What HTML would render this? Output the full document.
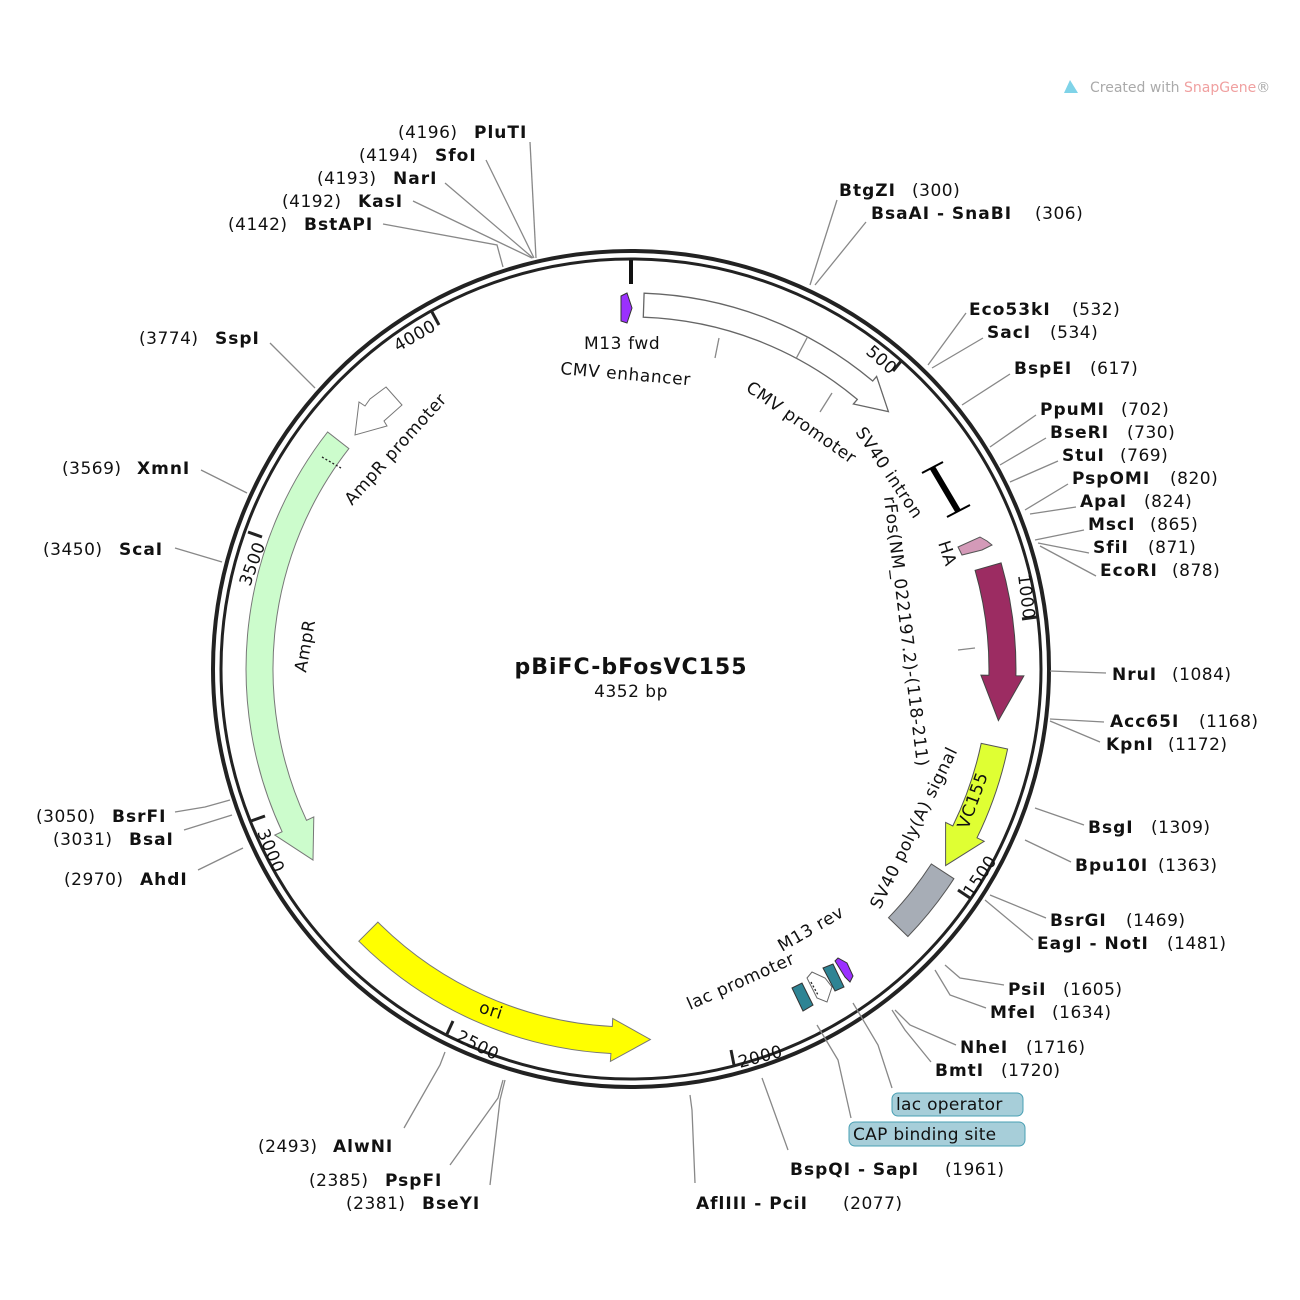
<!DOCTYPE html>
<html><head><meta charset="utf-8"><style>
body{margin:0;background:#fff}
svg{display:block}
text{font-family:"DejaVu Sans","Liberation Sans",sans-serif;font-size:17px;letter-spacing:0.5px;fill:#111}
.b{font-weight:bold;font-size:17px;letter-spacing:1px}
.f{font-size:17px;letter-spacing:0.6px}
line,polyline{stroke:#888;stroke-width:1.3;fill:none}
</style></head><body>
<svg width="1300" height="1300" viewBox="0 0 1300 1300">
<path d="M1064,93 L1070,80 L1078,93 Z" fill="#7fd3e8"/>
<text x="1090" y="92" style="font-size:14px;letter-spacing:0;fill:#aaa">Created with <tspan style="fill:#f0a0a0">SnapGene</tspan>®</text>

<circle cx="631" cy="669" r="418" fill="none" stroke="#222" stroke-width="4"/>
<circle cx="631" cy="669" r="410" fill="none" stroke="#222" stroke-width="3"/>
<line x1="631" y1="260" x2="631" y2="284" style="stroke:#111;stroke-width:4"/>

<g>
<line x1="902" y1="360" x2="893" y2="371" style="stroke:#222;stroke-width:3"/>
<line x1="1037" y1="617" x2="1022" y2="619" style="stroke:#222;stroke-width:3"/>
<line x1="970" y1="898" x2="958" y2="890" style="stroke:#222;stroke-width:3"/>
<line x1="734" y1="1065" x2="731" y2="1050" style="stroke:#222;stroke-width:3"/>
<line x1="447" y1="1034" x2="453" y2="1021" style="stroke:#222;stroke-width:3"/>
<line x1="251" y1="821" x2="265" y2="816" style="stroke:#222;stroke-width:3"/>
<line x1="248" y1="532" x2="262" y2="537" style="stroke:#222;stroke-width:3"/>
<line x1="432" y1="312" x2="439" y2="325" style="stroke:#222;stroke-width:3"/>
</g>
<text transform="translate(865,353) rotate(41)">500</text>
<text transform="translate(1018,575) rotate(83)">1000</text>
<text transform="translate(972,898) rotate(-56)">1500</text>
<text transform="translate(740,1068) rotate(-15)">2000</text>
<text transform="translate(455,1040) rotate(27)">2500</text>
<text transform="translate(257,832) rotate(68)">3000</text>
<text transform="translate(250,587) rotate(-70)">3500</text>
<text transform="translate(398,352) rotate(-30)">4000</text>

<path d="M644.1,293.2 A376,376 0 0 1 872.7,381.0 L876.6,376.4 L888.4,411.6 L853.4,404.0 L857.3,399.4 A352,352 0 0 0 643.3,317.2 Z" fill="#fff" stroke="#666" stroke-width="1.3"/>
<line x1="807.5" y1="337" x2="796.3" y2="358.2"/>
<polygon points="621,296,627,293,632,308,627,323,621,321" fill="#9b30ff" stroke="#333"/>
<line x1="932" y1="467" x2="958" y2="511" style="stroke:#000;stroke-width:6"/>
<line x1="922" y1="473" x2="943" y2="462" style="stroke:#000;stroke-width:2"/>
<line x1="947" y1="517" x2="970" y2="505" style="stroke:#000;stroke-width:2"/>
<polygon points="958,547,980,537,987,541,992,545,982,550,962,555" fill="#d49ab8" stroke="#555"/>
<path d="M1001.1,562.9 A385,385 0 0 1 1015.9,675.7 L1023.9,675.9 L998.4,720.6 L980.9,675.1 L988.9,675.3 A358,358 0 0 0 975.1,570.3 Z" fill="#9c2c62" stroke="#444"/>
<path d="M1007.6,749 A385,385 0 0 1 977,837.8 L984.2,841.3 L945.6,865.6 L945.6,822.4 L952.8,826 A358,358 0 0 0 981.2,743.4 Z" fill="#dfff33" stroke="#555"/>
<path d="M953.9,878.7 A385,385 0 0 1 907.9,936.5 L888.5,917.7 A358,358 0 0 0 931.3,864 Z" fill="#a7adb6" stroke="#555"/>
<polygon points="792,988,802,983,813,1005,803,1011" fill="#2e8494" stroke="#333"/>
<polygon points="807,978,812,972,825,978,832,987,827,1002,817,998" fill="#fff" stroke="#666"/>
<polyline points="811,982 818,995" style="stroke:#222;stroke-dasharray:2,2"/>
<polygon points="823,968,833,964,844,987,835,991" fill="#2e8494" stroke="#333"/>
<polygon points="835,961,838,958,847,963,853,976,850,982,845,977" fill="#9b30ff" stroke="#333"/>
<path d="M358.8,941.2 A385,385 0 0 0 610.9,1053.5 L610.4,1061.4 L650.4,1039.5 L612.7,1018.5 L612.3,1026.5 A358,358 0 0 1 377.9,922.1 Z" fill="#ffff00" stroke="#777"/>
<path d="M327.6,432 A385,385 0 0 0 282.1,831.7 L274.8,835.1 L313,860.1 L313.8,816.9 L306.5,820.3 A358,358 0 0 1 348.9,448.6 Z" fill="#ccfccc" stroke="#777"/>
<line x1="322" y1="457" x2="341" y2="468" style="stroke:#222;stroke-dasharray:2,2"/>
<polygon points="386,387,402,405,384,421,387,426,355,435,359,402,365,406,370,399" fill="#fff" stroke="#777"/>

<text class="f" x="584" y="349">M13 fwd</text>
<text class="f" transform="translate(560,374) rotate(5)">CMV enhancer</text>
<line x1="715" y1="358" x2="719" y2="338"/>
<text class="f" transform="translate(745,390) rotate(35)">CMV promoter</text>
<line x1="820" y1="412" x2="832" y2="393"/>
<text class="f" transform="translate(855,432) rotate(56)">SV40 intron</text>
<text class="f" transform="translate(938,543) rotate(72)">HA</text>
<text class="f" transform="translate(884,497) rotate(83)">rFos(NM_022197.2)-(118-211)</text>
<line x1="958" y1="650" x2="975" y2="648"/>
<text class="f" transform="translate(880,910) rotate(-64)">SV40 poly(A) signal</text>
<text class="f" transform="translate(968,830) rotate(-70)">VC155</text>
<text class="f" transform="translate(782,952) rotate(-30)">M13 rev</text>
<text class="f" transform="translate(690,1010) rotate(-24)">lac promoter</text>
<text class="f" transform="translate(478,1012) rotate(18)">ori</text>
<text class="f" transform="translate(306,673) rotate(-80)">AmpR</text>
<text class="f" transform="translate(352,506) rotate(-48)">AmpR promoter</text>

<text x="631" y="674" text-anchor="middle" style="font-weight:bold;font-size:22px;letter-spacing:1px">pBiFC-bFosVC155</text>
<text x="631" y="697" text-anchor="middle">4352 bp</text>

<line x1="530" y1="142" x2="536" y2="258"/>
<line x1="486" y1="160" x2="534" y2="258"/>
<line x1="445" y1="183" x2="533" y2="258"/>
<line x1="413" y1="201" x2="532" y2="258"/>
<polyline points="383,224 497,245 503,267"/>
<text x="398" y="138">(4196)</text><text class="b" x="474" y="138">PluTI</text>
<text x="359" y="161">(4194)</text><text class="b" x="435" y="161">SfoI</text>
<text x="317" y="184">(4193)</text><text class="b" x="393" y="184">NarI</text>
<text x="282" y="207">(4192)</text><text class="b" x="358" y="207">KasI</text>
<text x="228" y="230">(4142)</text><text class="b" x="304" y="230">BstAPI</text>

<polyline points="837,200 810,285"/><polyline points="866,222 815,285"/>
<text class="b" x="839" y="196">BtgZI</text><text x="912" y="196">(300)</text>
<text class="b" x="871" y="219">BsaAI - SnaBI</text><text x="1035" y="219">(306)</text>
<line x1="966" y1="313" x2="928" y2="365"/><line x1="983" y1="338" x2="932" y2="368"/>
<text class="b" x="969" y="315">Eco53kI</text><text x="1072" y="315">(532)</text>
<text class="b" x="987" y="338">SacI</text><text x="1050" y="338">(534)</text>
<line x1="1010" y1="374" x2="962" y2="405"/>
<text class="b" x="1014" y="374">BspEI</text><text x="1090" y="374">(617)</text>
<line x1="1036" y1="415" x2="990" y2="447"/><line x1="1046" y1="438" x2="1000" y2="465"/>
<line x1="1058" y1="461" x2="1010" y2="482"/><line x1="1068" y1="484" x2="1025" y2="510"/>
<line x1="1076" y1="507" x2="1030" y2="514"/><line x1="1084" y1="530" x2="1035" y2="540"/>
<line x1="1089" y1="553" x2="1038" y2="543"/><line x1="1096" y1="576" x2="1040" y2="546"/>
<text class="b" x="1040" y="415">PpuMI</text><text x="1121" y="415">(702)</text>
<text class="b" x="1050" y="438">BseRI</text><text x="1127" y="438">(730)</text>
<text class="b" x="1062" y="461">StuI</text><text x="1120" y="461">(769)</text>
<text class="b" x="1072" y="484">PspOMI</text><text x="1170" y="484">(820)</text>
<text class="b" x="1080" y="507">ApaI</text><text x="1144" y="507">(824)</text>
<text class="b" x="1088" y="530">MscI</text><text x="1150" y="530">(865)</text>
<text class="b" x="1093" y="553">SfiI</text><text x="1148" y="553">(871)</text>
<text class="b" x="1100" y="576">EcoRI</text><text x="1172" y="576">(878)</text>
<line x1="1106" y1="673" x2="1050" y2="671"/>
<text class="b" x="1112" y="680">NruI</text><text x="1172" y="680">(1084)</text>
<line x1="1104" y1="722" x2="1050" y2="719"/><line x1="1100" y1="742" x2="1050" y2="721"/>
<text class="b" x="1110" y="727">Acc65I</text><text x="1199" y="727">(1168)</text>
<text class="b" x="1106" y="750">KpnI</text><text x="1168" y="750">(1172)</text>
<line x1="1084" y1="825" x2="1035" y2="808"/><line x1="1071" y1="862" x2="1025" y2="840"/>
<text class="b" x="1088" y="833">BsgI</text><text x="1151" y="833">(1309)</text>
<text class="b" x="1075" y="871">Bpu10I</text><text x="1158" y="871">(1363)</text>
<line x1="1046" y1="918" x2="990" y2="895"/><line x1="1033" y1="940" x2="985" y2="900"/>
<text class="b" x="1050" y="926">BsrGI</text><text x="1126" y="926">(1469)</text>
<text class="b" x="1037" y="949">EagI - NotI</text><text x="1167" y="949">(1481)</text>
<polyline points="1004,985 960,978 945,965"/><polyline points="986,1008 950,995 935,970"/>
<text class="b" x="1008" y="995">PsiI</text><text x="1063" y="995">(1605)</text>
<text class="b" x="990" y="1018">MfeI</text><text x="1052" y="1018">(1634)</text>
<polyline points="956,1045 910,1025 895,1010"/><polyline points="931,1062 905,1030 892,1010"/>
<text class="b" x="960" y="1053">NheI</text><text x="1026" y="1053">(1716)</text>
<text class="b" x="935" y="1076">BmtI</text><text x="1001" y="1076">(1720)</text>
<polyline points="892,1088 878,1045 853,1003"/>
<rect x="892" y="1093" width="131" height="23" rx="6" fill="#a7ced9" stroke="#4aa0b4"/>
<text class="f" x="896" y="1110" style="letter-spacing:0.3px">lac operator</text>
<polyline points="851,1118 838,1060 817,1025"/>
<rect x="849" y="1122" width="176" height="24" rx="6" fill="#a7ced9" stroke="#4aa0b4"/>
<text class="f" x="853" y="1140" style="letter-spacing:0.3px">CAP binding site</text>
<polyline points="788,1150 770,1100 762,1078"/>
<text class="b" x="790" y="1175">BspQI - SapI</text><text x="945" y="1175">(1961)</text>
<polyline points="695,1183 692,1110 690,1095"/>
<text class="b" x="696" y="1209">AflIII - PciI</text><text x="843" y="1209">(2077)</text>
<polyline points="404,1128 440,1065 445,1052"/>
<polyline points="450,1165 498,1098 503,1080"/>
<polyline points="490,1185 500,1100 505,1080"/>
<text x="258" y="1152">(2493)</text><text class="b" x="333" y="1152">AlwNI</text>
<text x="309" y="1186">(2385)</text><text class="b" x="385" y="1186">PspFI</text>
<text x="346" y="1209">(2381)</text><text class="b" x="422" y="1209">BseYI</text>
<line x1="198" y1="870" x2="243" y2="848"/>
<line x1="184" y1="830" x2="232" y2="815"/>
<polyline points="175,812 205,807 230,800"/>
<text x="64" y="885">(2970)</text><text class="b" x="140" y="885">AhdI</text>
<text x="53" y="845">(3031)</text><text class="b" x="129" y="845">BsaI</text>
<text x="36" y="822">(3050)</text><text class="b" x="112" y="822">BsrFI</text>
<line x1="175" y1="548" x2="222" y2="562"/>
<text x="43" y="555">(3450)</text><text class="b" x="119" y="555">ScaI</text>
<line x1="201" y1="470" x2="247" y2="493"/>
<text x="62" y="474">(3569)</text><text class="b" x="137" y="474">XmnI</text>
<line x1="270" y1="343" x2="315" y2="388"/>
<text x="139" y="344">(3774)</text><text class="b" x="215" y="344">SspI</text>
</svg>
</body></html>
